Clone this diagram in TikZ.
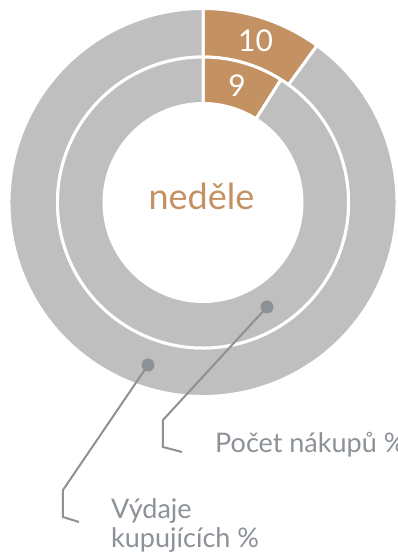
\documentclass[tikz,border=0pt]{standalone}
\usepackage{fontspec}
\setmainfont{Lato}
\usepackage{xcolor}
\definecolor{ringgray}{HTML}{BFBFBF}
\definecolor{ringbrown}{HTML}{C49163}
\definecolor{leadgray}{HTML}{8C9197}

\begin{document}
\begin{tikzpicture}[x=1pt,y=1pt,
  slice/.style={draw=white,line width=3pt,line join=round},
  leader/.style={leadgray,line width=2pt},
  callout/.style={text=leadgray,font=\fontsize{27}{29}\selectfont,inner sep=0pt,align=left}]
\useasboundingbox (-203,-351.5) rectangle (195,202.5);

%rings: outer = Vydaje (10), inner = Pocet nakupu (9)
\foreach \rin/\rout/\cut in {145.5/194/54, 99/145.5/57.6}{
  \filldraw[slice,fill=ringbrown] (90:\rout) arc[start angle=90,end angle=\cut,radius=\rout pt]
    -- (\cut:\rin) arc[start angle=\cut,end angle=90,radius=\rin pt] -- cycle;
  \filldraw[slice,fill=ringgray] (\cut:\rout) arc[start angle=\cut,end angle=-270,radius=\rout pt]
    -- (-270:\rin) arc[start angle=-270,end angle=\cut,radius=\rin pt] -- cycle;
}

%values
\node[white,font=\fontsize{30}{30}\selectfont] (ten) at (72:170) {10};
\node[white,font=\fontsize{30}{30}\selectfont] (nine) at (73.8:122) {9};
\node[text=ringbrown,font=\fontsize{36}{36}\selectfont,inner sep=0pt] (day) at (-1.5,6.5) {neděle};

%leaders
\coordinate (dotin) at (64,-104.5);
\coordinate (bendin) at (-40,-217.5);
\coordinate (footin) at (-40,-244.5);
\coordinate (endin) at (-21,-249.5);
\coordinate (dotout) at (-55,-162.5);
\coordinate (bendout) at (-140,-287.5);
\coordinate (footout) at (-140,-314.5);
\coordinate (endout) at (-124,-319.5);
\draw[leader] (dotin) -- (bendin) -- (footin) -- (endin);
\draw[leader] (dotout) -- (bendout) -- (footout) -- (endout);
\fill[leadgray] (dotin) circle (6.5pt);
\fill[leadgray] (dotout) circle (6.5pt);

%labels
\node[callout,anchor=base west] (nakupy) at (12,-249.5) {Počet nákupů \%};
\node[callout,anchor=base west] (vydaje) at (-92,-344.5) {Výdaje\\kupujících \%};
\end{tikzpicture}
\end{document}
